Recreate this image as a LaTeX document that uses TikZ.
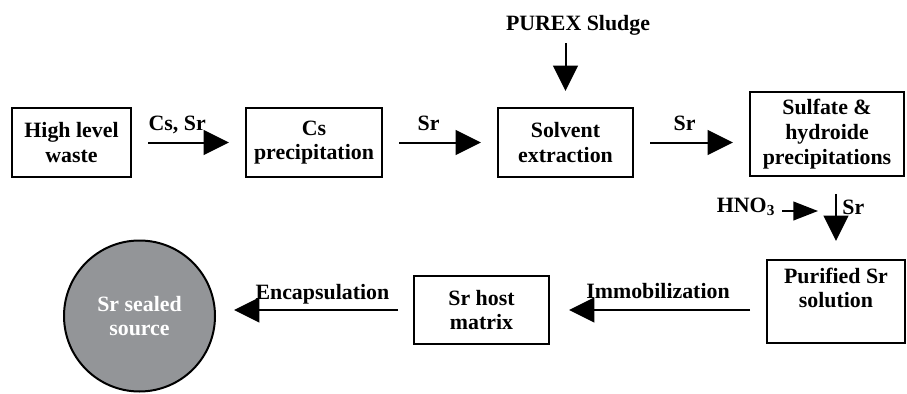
\documentclass[tikz,border=0pt]{standalone}
\usepackage{fontspec}
\setmainfont{Liberation Serif}
\usetikzlibrary{positioning,arrows.meta}
\definecolor{sealgray}{RGB}{147,149,152}

\begin{document}
\begin{tikzpicture}[x=0.75pt,y=-0.75pt,
  font=\bfseries\fontsize{16.4}{18.6}\selectfont,
  box/.style={draw,line width=1.5pt,align=center,inner sep=2pt,minimum height=51.75pt},
  flow/.style={line width=1.5pt,-{Triangle[length=19pt,width=18.5pt]}},
  lbl/.style={anchor=base,yshift=9pt,inner sep=0pt}]

    \useasboundingbox (0,0) rectangle (907,393);

    %Ligne du haut
    \node[box,minimum width=89.25pt] (waste) at (71.5,142.5) {High level\\waste};
    \node[box,minimum width=102pt,right=84.75pt of waste] (csprec) {Cs\\precipitation};
    \node[box,minimum width=101.25pt,right=85.5pt of csprec] (solvent) {Solvent\\extraction};
    \node[box,minimum width=115.5pt,minimum height=63pt,right=86.25pt of solvent,yshift=6.4pt] (sulfate) {Sulfate \&\\hydroide\\precipitations};
    \node[inner sep=4pt] (purex) at (578,25) {PUREX Sludge};

    %Ligne du bas
    \node[box,minimum width=103.5pt,minimum height=62.25pt,below=61.5pt of sulfate,xshift=6.75pt] (purified) {Purified Sr\\solution\\[2pt]\mbox{}};
    \node[box,minimum width=101.25pt,minimum height=51pt,left=162pt of purified,yshift=-6.4pt] (host) {Sr host\\matrix};
    \node[circle,draw,line width=1.5pt,fill=sealgray,text=white,align=center,minimum size=113.25pt,left=147.75pt of host,yshift=-4.5pt] (sealed) {Sr sealed\\source};
    \node[inner sep=3pt] (hno) at (746,207) {HNO\textsubscript{3}};
    \coordinate (joint) at (834,211);

    %Fleches
    \draw[flow,shorten <=12pt,shorten >=12pt] (waste) -- node[lbl,pos=0.4]{Cs, Sr} (csprec);
    \draw[flow,shorten <=12pt,shorten >=12pt] (csprec) -- node[lbl,pos=0.4]{Sr} (solvent);
    \draw[flow,shorten <=12pt,shorten >=12pt] (solvent.east) -- node[lbl,pos=0.44]{Sr} (solvent.east -| sulfate.west);
    \draw[flow,shorten <=2pt,shorten >=12pt] (purex.south -| solvent.north) -- (solvent.north);
    \draw[flow,shorten <=12.75pt,shorten >=13.5pt] (sulfate.south -| purified.north) -- node[right,pos=0.37,inner sep=4pt]{Sr} (purified.north);
    \draw[line width=1.5pt,-{Triangle[length=18.5pt,width=14pt]},shorten <=2pt,shorten >=12pt] (hno.east |- joint) -- (joint);
    \draw[flow,shorten <=12pt,shorten >=14.25pt] (purified.west |- host) -- node[lbl,midway,yshift=-0.5pt]{Immobilization} (host);
    \draw[flow,shorten <=11.25pt,shorten >=13.5pt] (host) -- node[lbl,pos=0.46,yshift=-1pt]{Encapsulation} (host -| sealed.east);

\end{tikzpicture}
\end{document}
